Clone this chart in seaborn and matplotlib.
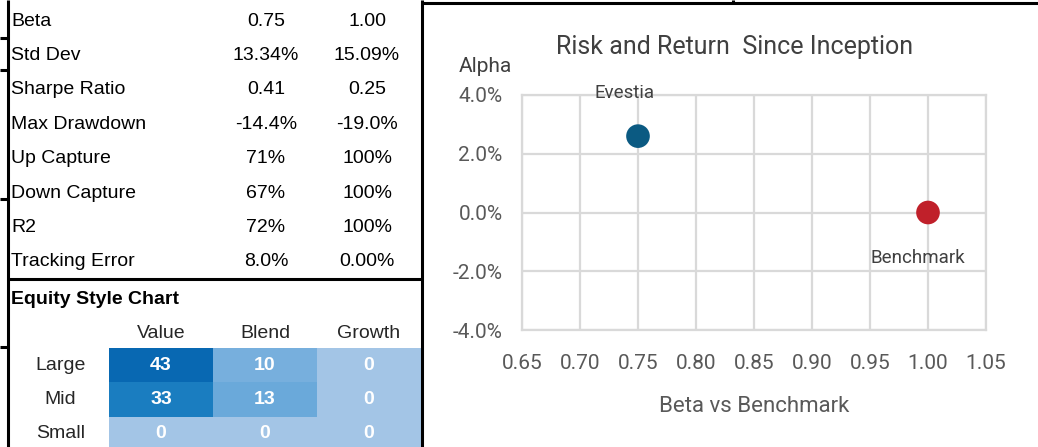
import numpy as np
import pandas as pd
import matplotlib
matplotlib.use("Agg")
import matplotlib.pyplot as plt
import seaborn as sns
from matplotlib.colors import LinearSegmentedColormap
from matplotlib.lines import Line2D
from matplotlib.ticker import FuncFormatter

# ---------------- data ----------------
stat_names = ["Beta", "Std Dev", "Sharpe Ratio", "Max Drawdown", "Up Capture",
              "Down Capture", "R2", "Tracking Error"]
fund_stats = ["0.75", "13.34%", "0.41", "-14.4%", "71%", "67%", "72%", "8.0%"]
bench_stats = ["1.00", "15.09%", "0.25", "-19.0%", "100%", "100%", "100%", "0.00%"]

style_cols = ["Value", "Blend", "Growth"]
style_rows = ["Large", "Mid", "Small"]
style_values = [[43, 10, 0],
                [33, 13, 0],
                [0, 0, 0]]

series_names = ["Evestia", "Benchmark"]
beta_values = [0.75, 1.00]
alpha_values = [2.6, 0.0]          # percent
series_colors = ["#0b5a82", "#c0202a"]

x_ticks = [0.65, 0.70, 0.75, 0.80, 0.85, 0.90, 0.95, 1.00, 1.05]
y_ticks = [-4.0, -2.0, 0.0, 2.0, 4.0]

# ---------------- setup ----------------
sns.set_theme(style="white")
plt.rcParams['font.family'] = ['Liberation Sans', 'DejaVu Sans']
NARROW = ['Liberation Sans Narrow', 'Roboto', 'DejaVu Sans']

W, H = 1038, 447
fig = plt.figure(figsize=(W / 100, H / 100), dpi=100)
fig.patch.set_facecolor("white")


def fx(x):
    return x / W


def fy(y):
    return 1 - y / H


FS = 14

# ---------------- stats table ----------------
row0, row_step = 21, 34.4
for i, (n, a, b) in enumerate(zip(stat_names, fund_stats, bench_stats)):
    y = fy(row0 + i * row_step)
    fig.text(fx(11), y, n, ha="left", va="center", fontsize=FS, color="black")
    fig.text(fx(266), y, a, ha="center", va="center", fontsize=FS, color="black")
    fig.text(fx(367), y, b, ha="center", va="center", fontsize=FS, color="black")

fig.text(fx(11), fy(299), "Equity Style Chart", ha="left", va="center",
         fontsize=FS, fontweight="bold", color="black")

# ---------------- style heatmap ----------------
ax_h = fig.add_axes([fx(109), fy(451), fx(421) - fx(109), (451 - 348) / H])
df_style = pd.DataFrame(style_values, index=style_rows, columns=style_cols)
cmap = LinearSegmentedColormap.from_list(
    "style", [(0.0, "#a3c5e6"), (0.30, "#6aa9da"), (0.77, "#1a7dc0"), (1.0, "#0868b2")])
sns.heatmap(df_style, ax=ax_h, cmap=cmap, vmin=0, vmax=43, annot=True, fmt="d",
            cbar=False, linewidths=0,
            annot_kws={"fontsize": FS, "fontweight": "bold", "color": "white"})
ax_h.xaxis.tick_top()
ax_h.tick_params(axis="x", length=0, pad=4, labelsize=FS, top=True, bottom=False,
                 labeltop=True, labelbottom=False)
ax_h.tick_params(axis="y", length=0, pad=35, labelsize=FS)
for t in ax_h.get_yticklabels():
    t.set_rotation(0)
    t.set_ha("center")
for t in ax_h.get_xticklabels():
    t.set_rotation(0)
ax_h.set_xlabel("")
ax_h.set_ylabel("")

# ---------------- scatter ----------------
ax = fig.add_axes([fx(522), fy(330), fx(986) - fx(522), (330 - 95) / H])
df_s = pd.DataFrame({"name": series_names, "beta": beta_values, "alpha": alpha_values})
sns.scatterplot(data=df_s, x="beta", y="alpha", hue="name", palette=series_colors,
                s=290, edgecolor="none", legend=False, ax=ax, zorder=3)
ax.set_xlim(x_ticks[0], x_ticks[-1])
ax.set_ylim(y_ticks[0], y_ticks[-1])
ax.set_xticks(x_ticks)
ax.set_yticks(y_ticks)
ax.xaxis.set_major_formatter(FuncFormatter(lambda v, p: f"{v:.2f}"))
ax.yaxis.set_major_formatter(FuncFormatter(lambda v, p: f"{v:.1f}%"))
ax.grid(True, color="#d9d9d9", lw=1.6)
for s in ax.spines.values():
    s.set_color("#d9d9d9")
    s.set_linewidth(1.6)
ax.tick_params(axis="both", length=0, labelsize=15, labelcolor="#595959")
ax.tick_params(axis="y", pad=14)
ax.tick_params(axis="x", pad=17)
for t in ax.get_xticklabels() + ax.get_yticklabels():
    t.set_family(NARROW)
ax.set_xlabel("Beta vs Benchmark", fontsize=16, color="#595959", family=NARROW, labelpad=17)
ax.set_ylabel("")

label_offsets = [(-10, 31), (-7, -33)]
for n, bx, ay, off in zip(series_names, beta_values, alpha_values, label_offsets):
    ax.annotate(n, (bx, ay), xytext=off, textcoords="offset points", ha="center",
                va="center", fontsize=13.5, color="#404040", family=NARROW)

fig.text(fx(485), fy(67), "Alpha", ha="center", va="center", fontsize=15,
         color="#404040", family=NARROW)
fig.text(fx(735), fy(47), "Risk and Return  Since Inception", ha="center", va="center",
         fontsize=18, color="#404040", family=NARROW)

# ---------------- borders ----------------
lw = 2.2
segs = [((7.5, 7.5), (0, 447)),
        ((421.5, 421.5), (0, 447)),
        ((7.5, 421.5), (279, 279)),
        ((421.5, 1038), (2.5, 2.5)),
        ((733, 733), (0, 2.5))]
for sy in [38, 70, 199, 347]:
    segs.append(((0, 7.5), (sy, sy)))
for xs, ys in segs:
    fig.add_artist(Line2D([fx(v) for v in xs], [fy(v) for v in ys],
                          color="black", lw=lw, transform=fig.transFigure,
                          solid_capstyle="butt"))

fig.savefig("out.png", dpi=100)
